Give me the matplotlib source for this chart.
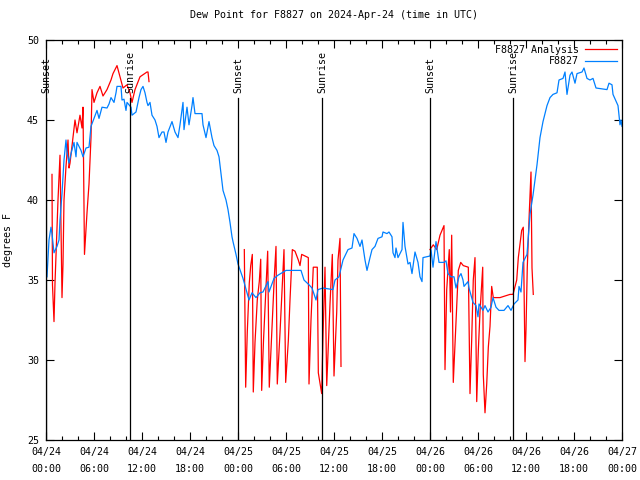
import numpy as np
import matplotlib
matplotlib.use("Agg")
import matplotlib.pyplot as plt
from matplotlib.ticker import MultipleLocator

# hours since 2024-04-24 00:00 UTC
obs_hours = [0.125, 0.375, 0.625, 0.75, 1.0, 1.375, 1.625, 1.75, 2.0, 2.25, 2.5, 2.625, 2.875,
             3.125, 3.5, 3.75, 3.875, 4.375, 4.625, 5.0, 5.375, 5.625, 6.0, 6.375, 6.625, 7.0,
             7.625, 7.875, 8.125, 8.5, 8.75, 8.875, 9.375, 9.5, 9.75, 10.0, 10.125, 10.625, 10.75,
             11.25, 11.625, 11.875, 12.125, 12.375, 12.625, 12.75, 13.0, 13.25, 13.625, 13.875,
             14.125, 14.5, 14.75, 15.0, 15.25, 15.75, 16.125, 16.5, 16.75, 17.125, 17.25, 17.625,
             17.875, 18.25, 18.375, 18.625, 19.5, 19.625, 20.0, 20.375, 20.75, 21.0, 21.375,
             21.625, 22.0, 22.125, 22.5, 22.75, 23.0, 23.25, 23.375, 23.75, 24.0, 24.625, 25.375,
             25.75, 26.25, 26.75, 27.125, 27.75, 27.875, 28.5, 29.0, 30.0, 31.875, 32.25, 32.875,
             33.25, 33.75, 34.0, 34.625, 35.875, 36.125, 36.625, 37.125, 37.75, 38.25, 38.5,
             38.875, 39.25, 39.5, 39.875, 40.125, 40.5, 40.75, 41.125, 41.5, 42.0, 42.125, 42.625,
             42.875, 43.25, 43.375, 43.625, 43.75, 44.0, 44.5, 44.625, 44.875, 45.25, 45.5, 45.75,
             46.125, 46.5, 46.75, 47.0, 47.125, 48.0, 48.125, 48.375, 48.75, 49.125, 49.75, 50.0,
             50.25, 50.625, 51.0, 51.25, 51.625, 51.875, 52.125, 52.25, 52.75, 52.875, 53.375,
             53.75, 54.0, 54.125, 54.625, 54.875, 55.25, 55.625, 55.875, 56.25, 56.625, 57.25,
             57.75, 58.125, 58.5, 59.0, 59.125, 59.375, 59.625, 60.125, 60.5, 60.875, 61.375,
             61.75, 62.125, 62.625, 63.0, 63.375, 63.875, 64.125, 64.625, 64.875, 65.125, 65.5,
             65.75, 66.125, 66.375, 67.0, 67.25, 67.625, 68.0, 68.375, 68.75, 70.125, 70.375,
             70.75, 70.875, 71.5, 71.75, 71.875, 72.0]
obs_dewpt = [35.2, 37.5, 38.3, 37.9, 36.7, 37.1, 37.5, 38.75, 40.4, 42.5, 43.75, 43.0, 42.3,
             42.9, 43.6, 42.7, 43.6, 43.1, 42.7, 43.25, 43.3, 44.6, 45.1, 45.6, 45.1, 45.8,
             45.75, 46.0, 46.4, 46.1, 46.7, 47.1, 47.1, 46.25, 46.3, 45.6, 46.1, 45.8, 45.3,
             45.5, 46.4, 46.9, 47.1, 46.7, 46.1, 45.9, 46.1, 45.3, 45.0, 44.6,
             43.9, 44.25, 44.25, 43.6, 44.25, 44.9, 44.25, 43.9, 44.7, 46.1, 44.4, 45.8,
             44.7, 45.9, 46.4, 45.4, 45.4, 44.7, 43.9, 44.9, 43.9, 43.4, 43.1,
             42.7, 41.1, 40.6, 40.0, 39.4, 38.6, 37.7, 37.4, 36.6, 36.0, 35.1, 33.75,
             34.2, 33.9, 34.2, 34.25, 34.9, 34.25, 35.1, 35.3, 35.6, 35.6, 35.0, 34.7,
             34.5, 33.75, 34.4, 34.5, 34.4, 35.0, 35.2, 36.25, 36.9, 37.0, 37.9,
             37.6, 37.1, 37.5, 36.25, 35.6, 36.4, 36.9, 37.1, 37.6, 37.7, 38.0, 37.9,
             38.0, 37.7, 36.7, 36.4, 37.0, 36.4, 36.9, 38.6, 37.1, 36.0, 36.1, 35.4,
             36.75, 36.1, 35.2, 34.9, 36.4, 36.5, 36.9, 35.8, 37.4, 36.1, 36.1, 36.2,
             35.4, 35.2, 35.2, 34.5, 35.2, 35.4, 35.0, 34.6, 34.9, 34.5, 33.6,
             33.4, 32.7, 33.5, 33.1, 33.4, 33.0, 33.3, 33.9, 33.3, 33.1, 33.1,
             33.4, 33.1, 33.5, 33.75, 34.6, 34.25, 36.1, 36.6, 39.1, 40.3, 42.2,
             43.9, 44.9, 45.9, 46.4, 46.6, 46.7, 47.5, 47.6, 48.0, 46.6, 47.8,
             48.0, 47.3, 47.9, 48.0, 48.25, 47.6, 47.5, 47.6, 47.0, 46.9, 47.3,
             47.2, 46.6, 45.9, 44.7, 45.0, 44.6]

# analysis series, NaN marks the gaps between runs
ana_hours = [0.75, 0.81, 1.0, 1.125, 1.25, 1.5, 1.75, 1.875, 2.0, 2.125, 2.25, 2.5, 2.75, 2.875,
             3.0, 3.375, 3.625, 3.875, 4.25, 4.5, 4.625, 4.81, 5.125, 5.375, 5.625, 5.75, 6.0,
             6.375, 6.75, 7.125, 7.625, 8.125, 8.375, 8.875, 9.25, 9.625, 10.125, 10.5, 10.75,
             11.125, 11.75, 12.625, 12.75, 12.875, 13.0,
             24.79, 24.96, 25.16, 25.41, 25.59, 25.79, 25.91, 26.125, 26.41, 26.66, 26.84, 26.96,
             27.19, 27.5, 27.71, 27.91, 28.21, 28.54, 28.75, 28.91, 29.25, 29.46, 29.75, 29.96,
             30.29, 30.5, 30.79, 31.125, 31.54, 31.75, 31.96, 32.375, 32.79, 32.875, 33.125,
             33.41, 33.91, 34.04, 34.46, 34.625, 34.875, 35.09, 35.5, 35.79, 36.0, 36.34, 36.5,
             36.75, 36.875, 37.0,
             48.0, 48.41, 48.84, 49.25, 49.75, 49.875, 50.09, 50.41, 50.56, 50.71, 50.91, 51.21,
             51.54, 51.84, 52.16, 52.79, 53.0, 53.21, 53.41, 53.625, 53.84, 54.04, 54.25, 54.59,
             54.66, 54.875, 55.09, 55.29, 55.5, 55.71, 55.91, 56.75, 57.375, 58.0, 58.375, 58.84,
             59.04, 59.46, 59.66, 59.875, 60.0, 60.16, 60.41, 60.625, 60.75, 60.91]
ana_dewpt = [41.6, 34.7, 32.4, 34.8, 36.5, 40.0, 42.8, 38.5, 33.9, 36.0, 40.0, 42.1, 43.75, 42.0,
             42.3, 43.9, 45.0, 44.2, 45.3, 44.5, 45.8, 36.6, 39.2, 41.0, 43.9, 46.9, 46.1,
             46.7, 47.1, 46.5, 46.9, 47.5, 47.9, 48.4, 47.7, 47.0, 47.2, 46.7, 46.1,
             46.9, 47.7, 48.0, 48.0, 47.4, np.nan,
             36.9, 28.3, 31.75, 34.8, 35.9, 36.6, 28.0, 31.1, 33.75, 34.9, 36.3, 28.1,
             31.25, 34.6, 36.8, 28.3, 31.6, 35.2, 37.1, 28.5, 31.7, 33.9, 36.9, 28.6,
             31.2, 33.75, 36.9, 36.8, 36.25, 35.9, 36.6, 36.5, 36.4, 28.5, 32.5,
             35.8, 35.8, 29.2, 27.9, 31.5, 35.8, 28.4, 33.5, 36.6, 29.0, 33.0, 36.25,
             37.6, 29.6, np.nan,
             36.9, 37.2, 36.9, 37.8, 38.4, 29.4, 34.4, 36.9, 33.0, 37.8, 28.6, 31.9,
             35.6, 36.1, 35.9, 35.8, 27.9, 31.25, 35.0, 36.4, 27.4, 30.6, 33.0, 35.8,
             29.1, 26.7, 28.5, 30.8, 32.1, 34.6, 33.9, 33.9, 34.0, 34.1, 34.1, 35.0,
             36.4, 38.1, 38.3, 29.9, 31.9, 35.8, 39.2, 41.75, 35.75, 34.1]

sun_hours = [0.0, 10.5, 24.0, 34.5, 48.0, 58.375]
sun_labels = ["Sunset", "Sunrise", "Sunset", "Sunrise", "Sunset", "Sunrise"]

tick_hours = [0, 6, 12, 18, 24, 30, 36, 42, 48, 54, 60, 66, 72]
tick_labels = ["04/24\n00:00", "04/24\n06:00", "04/24\n12:00", "04/24\n18:00",
               "04/25\n00:00", "04/25\n06:00", "04/25\n12:00", "04/25\n18:00",
               "04/26\n00:00", "04/26\n06:00", "04/26\n12:00", "04/26\n18:00",
               "04/27\n00:00"]

plt.rcParams['font.family'] = ['DejaVu Sans Mono']
plt.rcParams['font.size'] = 7.2

fig = plt.figure(figsize=(6.4, 4.8), dpi=100)
ax = fig.add_axes([46 / 640, 40 / 480, 576 / 640, 400 / 480])

ax.plot(ana_hours, ana_dewpt, color='#ff0000', lw=0.9, label='F8827 Analysis')
ax.plot(obs_hours, obs_dewpt, color='#0080ff', lw=0.9, label='F8827')

for h, lab in zip(sun_hours, sun_labels):
    ax.plot([h, h], [25, 46.4], color='black', lw=0.9)
    ax.text(h, 46.7, lab, rotation=90, ha='center', va='bottom', fontsize=7.2)

ax.set_xlim(0, 72)
ax.set_ylim(25, 50)
ax.set_xticks(tick_hours)
ax.set_xticklabels(tick_labels, linespacing=1.9)
ax.xaxis.set_minor_locator(MultipleLocator(2))
ax.yaxis.set_major_locator(MultipleLocator(5))
ax.tick_params(which='both', direction='in', top=True, right=True, width=0.8)
ax.tick_params(which='major', length=6, pad=5)
ax.tick_params(which='minor', length=3)
for s in ax.spines.values():
    s.set_linewidth(0.9)

ax.set_ylabel('degrees F', labelpad=10)
ax.set_title('Dew Point for F8827 on 2024-Apr-24 (time in UTC)', fontsize=7.2, pad=16)

ax.legend(loc='upper right', frameon=False, markerfirst=False, handlelength=3.2,
          borderaxespad=0.1, labelspacing=0.15, handletextpad=0.6)

fig.savefig('out.png', dpi=100)
